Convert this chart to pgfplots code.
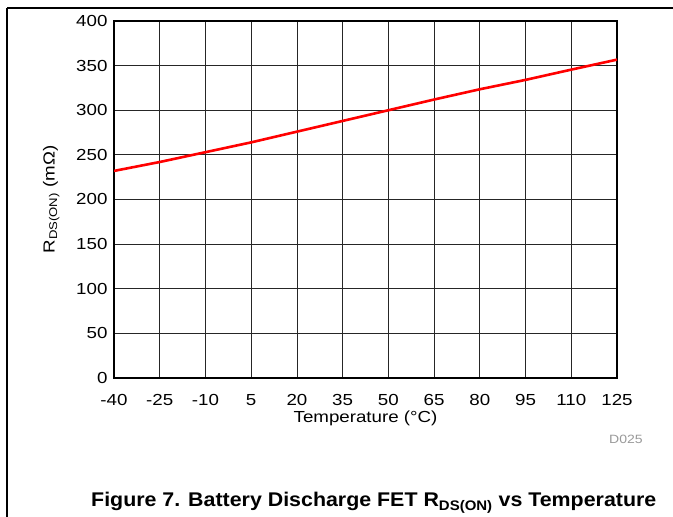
\documentclass[border=0pt]{standalone}
\usepackage{fontspec}
\setmainfont{Liberation Sans}[FakeStretch=1.17]
\newfontfamily\capfont{Liberation Sans}[FakeStretch=1.08]
\usepackage{pgfplots}
\pgfplotsset{compat=1.18}
\begin{document}
\begin{tikzpicture}[x=1bp,y=1bp]
\useasboundingbox (0,0) rectangle (673,517);
\draw[line width=1.3bp] (7,0) -- (7,509) (7,509) -- (673,509);
\begin{axis}[
  at={(114bp,139bp)}, anchor=south west,
  width=503bp, height=357bp, scale only axis,
  xmin=-40, xmax=125, ymin=0, ymax=400,
  xtick={-40,-25,...,125}, ytick={0,50,...,400},
  grid=major,
  major grid style={black!85, line width=0.8bp},
  major tick length=0pt,
  axis line style={line width=2bp},
  /pgf/number format/assume math mode=true,
  ticklabel style={font=\fontsize{16bp}{18bp}\selectfont},
  xticklabel style={yshift=-13bp},
  yticklabel style={xshift=-3bp},
  xlabel={Temperature (°C)},
  ylabel={R\textsubscript{DS(ON)} (mΩ)},
  label style={font=\fontsize{16bp}{18bp}\selectfont},
  xlabel style={yshift=2bp},
  ylabel style={yshift=10bp},
]
\addplot[red, line width=2.6bp] coordinates {
(-40,232) (-25,242) (-10,253) (5,264) (20,276) (35,288) (50,300)
(65,312) (80,323.5) (95,334) (110,345.5) (125,356.7)
};
\end{axis}
\node[anchor=base east, text=black!40, font=\fontsize{12bp}{14bp}\selectfont, inner sep=0] at (643,73) {D025};
\node[anchor=base west, inner sep=0, font=\capfont\fontsize{19.8bp}{22bp}\selectfont\bfseries] at (91,10) {Figure 7. Battery Discharge FET R\textsubscript{DS(ON)} vs Temperature};
\end{tikzpicture}
\end{document}
